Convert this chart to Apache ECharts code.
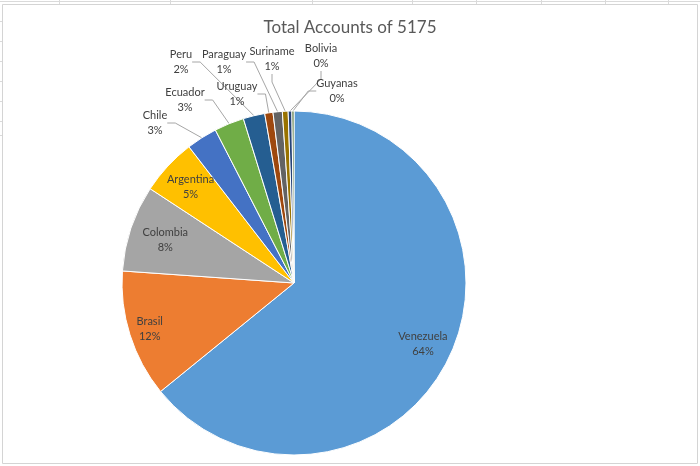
<!DOCTYPE html>
<html>
<head>
<meta charset="utf-8">
<script src="https://cdn.jsdelivr.net/npm/echarts@6/dist/echarts.min.js"></script>
<style>
html, body { margin: 0; padding: 0; background: #fff; }
#chart { width: 700px; height: 466px; }
</style>
</head>
<body>
<div id="chart"></div>
<script>
// data
var countries = ['Venezuela', 'Brasil', 'Colombia', 'Argentina', 'Chile', 'Ecuador',
                 'Peru', 'Uruguay', 'Paraguay', 'Suriname', 'Bolivia', 'Guyanas'];
var accounts = [3319, 620, 420, 275, 150, 145, 105, 40, 45, 28, 18, 10];
var chartTitle = 'Total Accounts of 5175';

// office palette
var sliceColors = ['#5B9BD5', '#ED7D31', '#A5A5A5', '#FFC000', '#4472C4', '#70AD47',
                   '#255E91', '#9E480E', '#636363', '#997300', '#264478', '#43682B'];

var cx = 294, cy = 283, R = 172;
var font = 'Lato, "Open Sans", sans-serif';

// big slices keep the label inside, at a share of the radius
var insideRatio = { Venezuela: 0.83, Brasil: 0.88, Colombia: 0.79, Argentina: 0.82 };
// small slices: label spot (like excel's manual label placement)
var outsidePos = {
    Chile: [155, 123], Ecuador: [185, 100], Peru: [181, 62], Uruguay: [237, 94],
    Paraguay: [224, 62], Suriname: [272, 59], Bolivia: [321, 56], Guyanas: [337, 91]
};

var total = accounts.reduce(function (a, b) { return a + b; }, 0);
var midAngle = [];
var cum = 0;
accounts.forEach(function (v) {
    midAngle.push((cum + v / 2) / total * Math.PI * 2);
    cum += v;
});

var pieData = countries.map(function (name, i) {
    var inside = insideRatio[name] != null;
    return {
        name: name,
        value: accounts[i],
        itemStyle: { color: sliceColors[i] },
        label: { position: inside ? 'inside' : 'outside' },
        labelLine: { show: !inside }
    };
});

var myChart = echarts.init(document.getElementById('chart'));

// sheet gridlines peeking out around the chart frame
var gridBits = [];
[59, 170, 312, 412, 476, 541, 605, 668].forEach(function (x) {
    gridBits.push({ type: 'line', shape: { x1: x + 0.5, y1: 0, x2: x + 0.5, y2: 4 },
        style: { stroke: '#dadada', lineWidth: 1 }, silent: true });
});
[21, 41, 61, 81, 101, 121, 135].forEach(function (y) {
    gridBits.push({ type: 'line', shape: { x1: 0, y1: y + 0.5, x2: 2, y2: y + 0.5 },
        style: { stroke: '#dadada', lineWidth: 1 }, silent: true });
});
gridBits.push({ type: 'line', shape: { x1: 0, y1: 1.5, x2: 700, y2: 1.5 },
    style: { stroke: '#dadada', lineWidth: 1 }, silent: true });
gridBits.push({ type: 'rect', shape: { x: 2.5, y: 4.5, width: 695, height: 459 },
    style: { fill: '#fff', stroke: '#d4d4d4', lineWidth: 1 }, silent: true, z: -1 });

myChart.setOption({
    animation: false,
    backgroundColor: '#fff',
    title: {
        text: chartTitle,
        left: 'center',
        top: 14,
        textStyle: { fontFamily: font, fontSize: 17, fontWeight: 'normal', color: '#595959' }
    },
    graphic: gridBits,
    series: [{
        type: 'pie',
        center: [cx, cy],
        radius: R,
        startAngle: 90,
        clockwise: true,
        avoidLabelOverlap: false,
        itemStyle: { borderColor: '#fff', borderWidth: 1 },
        label: {
            fontFamily: font,
            fontSize: 11,
            lineHeight: 15,
            color: '#404040',
            align: 'center',
            formatter: function (p) {
                return p.name + '\n' + Math.round(p.percent) + '%';
            }
        },
        labelLine: {
            show: true,
            length: 10,
            length2: 8,
            lineStyle: { color: '#a6a6a6', width: 1 }
        },
        labelLayout: function (params) {
            var name = countries[params.dataIndex];
            var pos;
            if (insideRatio[name] != null) {
                var a = midAngle[params.dataIndex];
                var r = insideRatio[name] * R;
                pos = [cx + r * Math.sin(a), cy - r * Math.cos(a)];
            } else {
                pos = outsidePos[name];
            }
            return { x: pos[0], y: pos[1], align: 'center', verticalAlign: 'middle' };
        },
        emphasis: { disabled: true },
        data: pieData
    }]
});
</script>
</body>
</html>
